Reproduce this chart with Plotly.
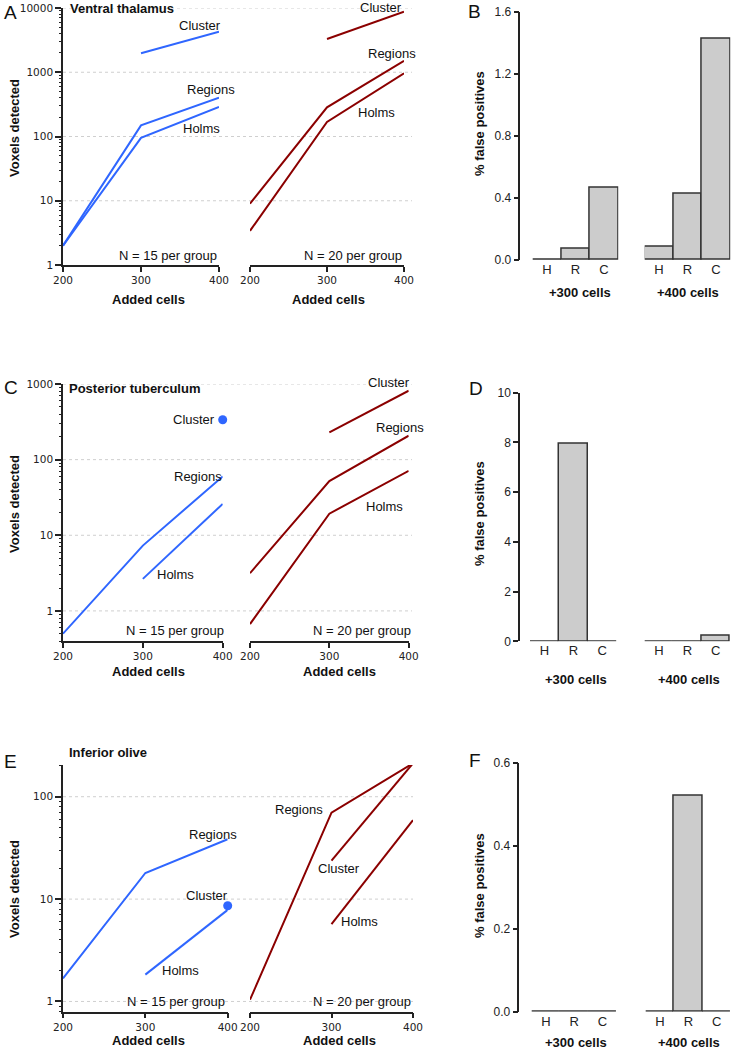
import math
import plotly.graph_objects as go

# ---------------- data ----------------
cells = [200, 300, 400]
methods = ["H", "R", "C"]

# A  Ventral thalamus
a15_cluster = [None, 1970, 4270]
a15_regions = [2.0, 149, 402]
a15_holms = [2.0, 95, 288]
a20_cluster = [None, 3290, 8770]
a20_regions = [9.0, 284, 1510]
a20_holms = [3.4, 168, 962]

# C  Posterior tuberculum
c15_cluster = [None, None, 337]
c15_regions = [0.5, 7.3, 60]
c15_holms = [None, 2.65, 26]
c20_cluster = [None, 230, 816]
c20_regions = [3.15, 52, 207]
c20_holms = [0.67, 19.3, 71]

# E  Inferior olive
e15_cluster = [None, None, 8.6]
e15_regions = [1.68, 18, 38.4]
e15_holms = [None, 1.83, 7.85]
e20_cluster = [None, 23.8, 212]
e20_regions = [1.04, 70, 212]
e20_holms = [None, 5.7, 59]

# % false positives (B, D, F)
b_fp300 = [0.0, 0.073, 0.466]
b_fp400 = [0.084, 0.425, 1.426]
d_fp300 = [0.0, 7.96, 0.0]
d_fp400 = [0.0, 0.0, 0.21]
f_fp300 = [0.0, 0.0, 0.0]
f_fp400 = [0.0, 0.521, 0.0]

group_labels = ["+300 cells", "+400 cells"]
major_ticks = [1, 10, 100, 1000, 10000]
major_text = ["1", "10", "100", "1000", "10000"]

# ---------------- style ----------------
W, H = 732, 1050
BLUE = "#2f66ff"
RED = "#8b0000"
AX = "#222222"
TICKFONT = dict(family="DejaVu Sans", size=10.5, color=AX)
LBL = "Liberation Sans, Arial, sans-serif"


def px(x):
    return x / W


def py(y):
    return 1 - y / H


def nm(i, k):
    return f"{k}axis" if i == 1 else f"{k}axis{i}"


def rf(i, k):
    return k if i == 1 else f"{k}{i}"


minor_vals = [m * 10 ** k for k in range(-1, 5) for m in range(2, 10)]

line_rows = [
    dict(ytop=8, ybot=265, yr=[0, 4], lx=(63, 219), rx=(250, 404),
         left=[a15_cluster, a15_regions, a15_holms], right=[a20_cluster, a20_regions, a20_holms],
         grid=[10, 100, 1000, 10000], gx1=412),
    dict(ytop=384, ybot=641, yr=[math.log10(0.4), 3], lx=(63, 222.7), rx=(250, 408.7),
         left=[c15_cluster, c15_regions, c15_holms], right=[c20_cluster, c20_regions, c20_holms],
         grid=[1, 10, 100, 1000], gx1=412),
    dict(ytop=765, ybot=1011.7, yr=[-0.1, 2.31], lx=(63, 227.7), rx=(250, 413),
         left=[e15_cluster, e15_regions, e15_holms], right=[e20_cluster, e20_regions, e20_holms],
         grid=[1, 10, 100], gx1=413),
]

bar_rows = [
    dict(ytop=11.7, ybot=260, yr=[0, 1.6], dt=0.4, fmt=".1f", ax=519.3,
         g1=(532.7, 618.3), g2=(644.7, 730.3), v1=b_fp300, v2=b_fp400),
    dict(ytop=392.7, ybot=641.3, yr=[0, 10], dt=2, fmt="d", ax=519,
         g1=(530, 616.7), g2=(644.7, 730), v1=d_fp300, v2=d_fp400),
    dict(ytop=762.7, ybot=1011.7, yr=[0, 0.6], dt=0.2, fmt=".1f", ax=518.3,
         g1=(531.7, 616.7), g2=(645.7, 731.0), v1=f_fp300, v2=f_fp400),
]

fig = go.Figure()
layout = {}
shapes = []

for r, row in enumerate(line_rows):
    iL, iR, iB1, iB2 = 4 * r + 1, 4 * r + 2, 4 * r + 3, 4 * r + 4
    iM = 13 + r  # overlay axis carrying the minor log ticks
    ydom = [py(row["ybot"]), py(row["ytop"])]
    for i, (x0, x1), series, color in [(iL, row["lx"], row["left"], BLUE),
                                        (iR, row["rx"], row["right"], RED)]:
        layout[nm(i, "x")] = dict(
            domain=[px(x0), px(x1)], range=[200, 400], anchor=rf(i, "y"),
            tickmode="array", tickvals=cells, ticks="outside", ticklen=5, tickwidth=1.5,
            tickcolor=AX, showline=True, linecolor=AX, linewidth=1.5, tickfont=TICKFONT,
            showgrid=False, zeroline=False, automargin=False)
        ya = dict(domain=ydom, type="log", range=row["yr"], anchor=rf(i, "x"),
                  showgrid=False, zeroline=False, automargin=False)
        if i == iL:
            ya.update(showline=True, linecolor=AX, linewidth=1.5, ticks="outside",
                      ticklen=6, tickwidth=1.5, tickcolor=AX, tickmode="array",
                      tickvals=major_ticks, ticktext=major_text, tickfont=TICKFONT)
        else:
            ya.update(visible=False)
        layout[nm(i, "y")] = ya
        for vals in series:
            n = sum(v is not None for v in vals)
            if n == 1:
                fig.add_trace(go.Scatter(x=cells, y=vals, mode="markers",
                                         marker=dict(color=color, size=9),
                                         xaxis=rf(i, "x"), yaxis=rf(i, "y"),
                                         showlegend=False, cliponaxis=False))
            else:
                fig.add_trace(go.Scatter(x=cells, y=vals, mode="lines",
                                         line=dict(color=color, width=2),
                                         xaxis=rf(i, "x"), yaxis=rf(i, "y"),
                                         showlegend=False, cliponaxis=False))
    # minor ticks on an overlaying axis
    layout[nm(iM, "y")] = dict(
        overlaying=rf(iL, "y"), anchor=rf(iL, "x"), side="left", type="log",
        range=row["yr"], tickmode="array", tickvals=minor_vals,
        ticktext=[""] * len(minor_vals), showticklabels=True,
        ticks="outside", ticklen=3, tickwidth=1, tickcolor=AX, showline=False,
        showgrid=False, zeroline=False, automargin=False)
    fig.add_trace(go.Scatter(x=[300], y=[1], mode="markers", marker=dict(opacity=0),
                             xaxis=rf(iL, "x"), yaxis=rf(iM, "y"), showlegend=False,
                             hoverinfo="skip"))
    for g in row["grid"]:
        shapes.append(dict(type="line", xref="paper", yref=rf(iL, "y"),
                           x0=px(row["lx"][0]), x1=px(row["gx1"]),
                           y0=g, y1=g, layer="below",
                           line=dict(color="#cfcfcf", width=1, dash="dot")))

    br = bar_rows[r]
    bydom = [py(br["ybot"]), py(br["ytop"])]
    for i, (x0, x1), vals in [(iB1, br["g1"], br["v1"]), (iB2, br["g2"], br["v2"])]:
        layout[nm(i, "x")] = dict(
            domain=[px(x0), px(x1)], type="category", range=[-0.5, 2.5],
            anchor=rf(i, "y"), showline=False, ticks="",
            tickfont=dict(family=LBL, size=13, color=AX),
            showgrid=False, zeroline=False, automargin=False)
        if i == iB1:
            layout[nm(i, "y")] = dict(
                domain=bydom, range=br["yr"], anchor="free", position=px(br["ax"]),
                showline=True, linecolor=AX, linewidth=1.5, ticks="outside", ticklen=5,
                tickwidth=1.5, tickcolor=AX, dtick=br["dt"], tick0=0, tickformat=br["fmt"],
                tickfont=dict(family=LBL, size=12, color=AX), showgrid=False,
                zeroline=False, automargin=False)
        else:
            layout[nm(i, "y")] = dict(domain=bydom, range=br["yr"], anchor=rf(i, "x"),
                                      visible=False, automargin=False)
        fig.add_trace(go.Bar(x=methods, y=vals, width=1,
                             marker=dict(color="#cccccc", line=dict(color="#333333", width=1.5)),
                             xaxis=rf(i, "x"), yaxis=rf(i, "y"), showlegend=False))

# ---------------- text ----------------
anns = []


def ann(text, x, y, size=13, bold=False, xanchor="center", family=LBL, angle=0, color="#111111"):
    anns.append(dict(text=f"<b>{text}</b>" if bold else text, x=px(x), y=py(y),
                     xref="paper", yref="paper", xanchor=xanchor, yanchor="middle",
                     showarrow=False, textangle=angle,
                     font=dict(family=family, size=size, color=color)))


# panel letters
for t, x, y in [("A", 2, 12), ("B", 466, 11), ("C", 2, 387), ("D", 466.7, 388.5),
                ("E", 2, 761), ("F", 466.7, 760)]:
    ann(t, x, y, size=19, xanchor="left")

# titles
ann("Ventral thalamus", 67.7, 9, bold=True, xanchor="left")
ann("Posterior tuberculum", 67, 388.7, bold=True, xanchor="left")
ann("Inferior olive", 66.7, 752.7, bold=True, xanchor="left")

# series labels
labels = [
    ("Cluster", 200, 25, "center"), ("Regions", 211, 89, "center"), ("Holms", 202, 128, "center"),
    ("N = 15 per group", 219, 255, "right"),
    ("Cluster", 381, 7, "center"), ("Regions", 392, 54, "center"), ("Holms", 376, 112, "center"),
    ("N = 20 per group", 404, 255, "right"),
    ("Cluster", 194, 419, "center"), ("Regions", 198, 476.7, "center"), ("Holms", 175, 574.3, "center"),
    ("N = 15 per group", 226, 630.7, "right"),
    ("Cluster", 389, 382.7, "center"), ("Regions", 400, 427.3, "center"), ("Holms", 384.7, 506.7, "center"),
    ("N = 20 per group", 412.7, 630.7, "right"),
    ("Regions", 213, 834.7, "center"), ("Cluster", 207, 895.7, "center"), ("Holms", 180.3, 970, "center"),
    ("N = 15 per group", 226.7, 1001.7, "right"),
    ("Regions", 299, 809.3, "center"), ("Cluster", 339, 868.3, "center"), ("Holms", 359.7, 921.7, "center"),
    ("N = 20 per group", 412.7, 1001.7, "right"),
]
for t, x, y, a in labels:
    ann(t, x, y, xanchor=a)

# axis titles
for y in [128, 504, 889]:
    ann("Voxels detected", 14, y, bold=True, angle=-90)
for y, xr in [(299, 328), (671, 339), (1040, 339)]:
    ann("Added cells", 148, y, bold=True)
    ann("Added cells", xr, y, bold=True)
for y in [124, 514, 886]:
    ann("% false positives", 479, y, bold=True, angle=-90)
for y, x1, x2 in [(292.7, 579.5, 688.3), (679.3, 576.3, 689), (1042, 576.3, 689)]:
    ann(group_labels[0], x1, y, bold=True)
    ann(group_labels[1], x2, y, bold=True)

fig.update_layout(
    template="none",
    width=W, height=H, margin=dict(l=0, r=0, t=0, b=0, pad=0),
    paper_bgcolor="white", plot_bgcolor="white",
    bargap=0, showlegend=False, shapes=shapes, annotations=anns,
    **layout,
)

fig.write_html("out.html", config={"displayModeBar": False},
               post_script="document.body.style.margin='0';document.body.style.overflow='hidden';")
